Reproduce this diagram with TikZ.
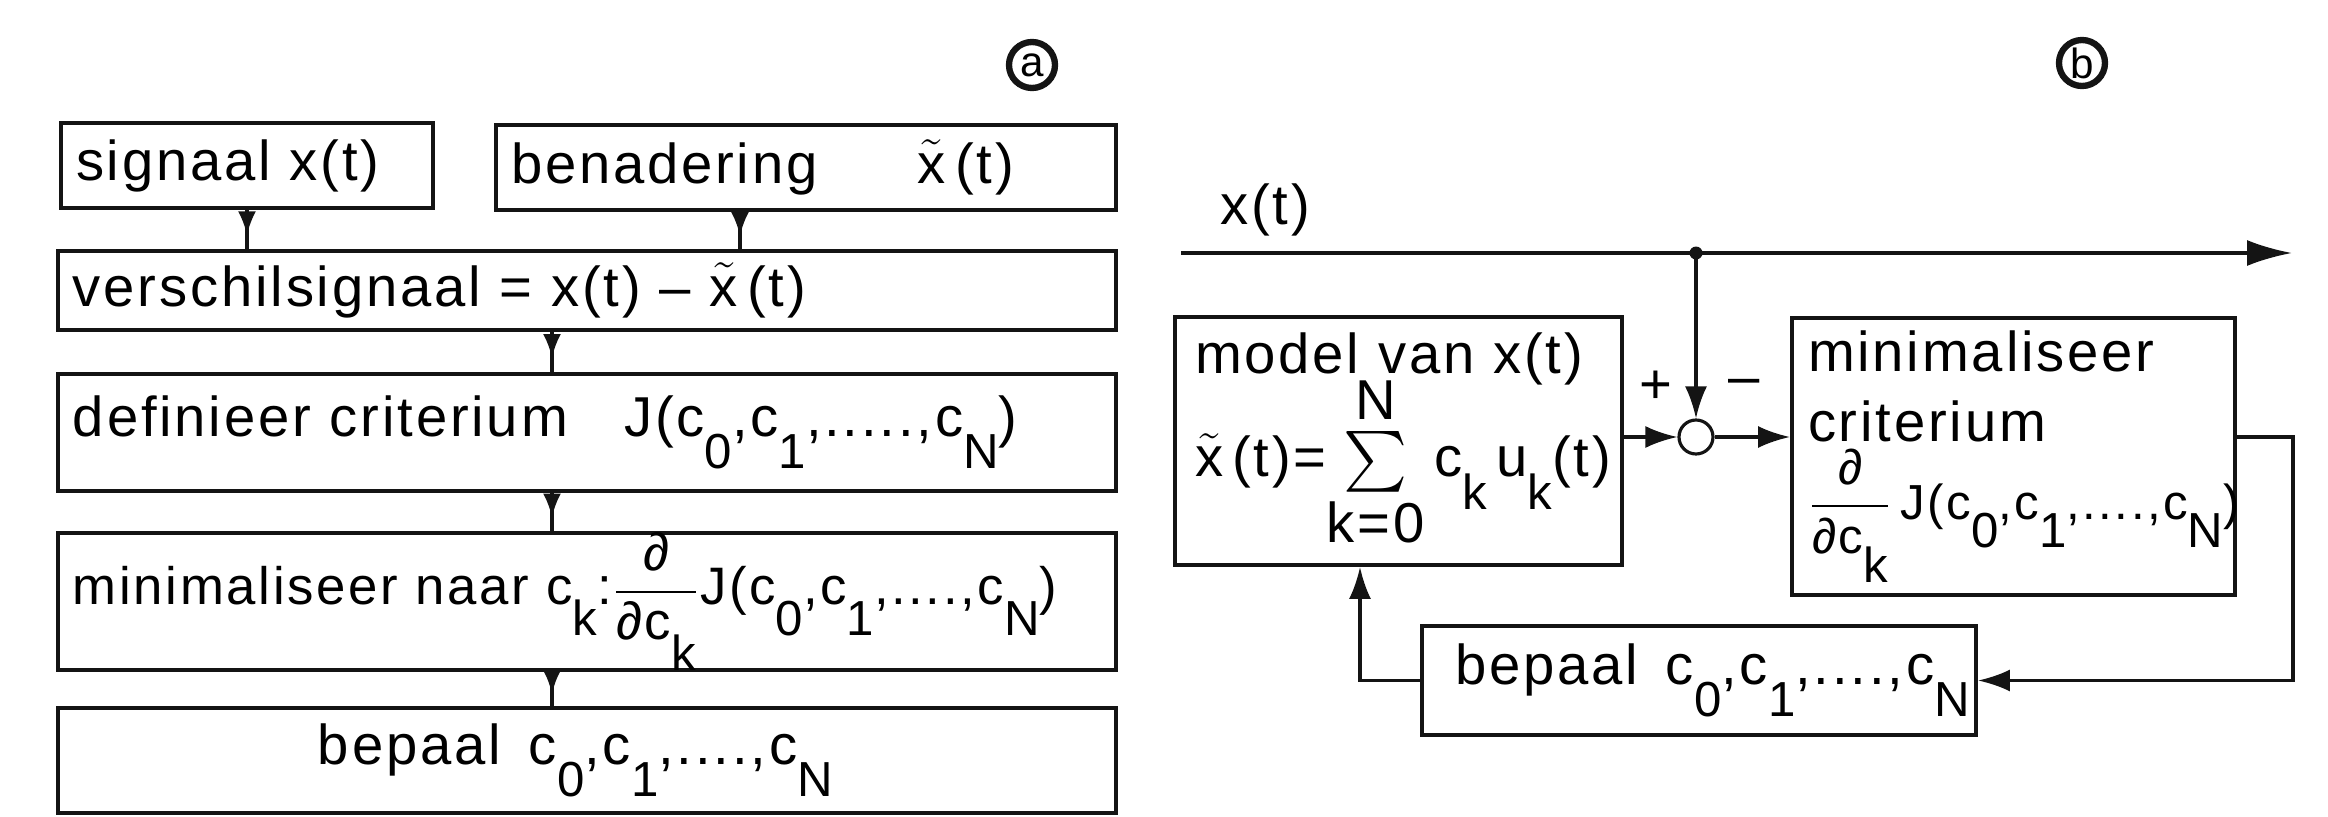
\documentclass[tikz,border=0pt]{standalone}
\usepackage{fontspec}
\setmainfont{Liberation Sans}[LetterSpace=5]
\usepackage{amsmath}
\usepackage{xcolor}
\usepackage{tikz}
\usetikzlibrary{arrows.meta,calc,decorations.markings}
\definecolor{ink}{HTML}{141414}
% lowered index, drawn nearly full size
\newcommand{\lo}[1]{\raisebox{-1.1ex}{\fontsize{14}{14}\selectfont #1}}
\newcommand{\xt}{$\tilde{\mbox{x}}$}
\tikzset{
  >={Latex[length=3.2mm,width=2.2mm]},
  box/.style={
    draw=ink,
    line width=1.1pt,
    align=left,
    inner xsep=1.5mm,
    inner ysep=0pt,
    font=\fontsize{16}{20}\selectfont
  },
  link/.style={
    draw=ink, line width=1pt,
    postaction={decorate},
    decoration={markings, mark=at position 0.65 with {\arrow{Latex[length=2.4mm,width=1.8mm]}}}
  },
  sig/.style={draw=ink, ->, line width=0.9pt},
  lbl/.style={font=\fontsize{16}{20}\selectfont, inner sep=1pt},
  tag/.style={circle, draw=ink, line width=1.8pt, inner sep=0pt, minimum size=4.6mm, font=\fontsize{12}{12}\selectfont}
}

\begin{document}
\begin{tikzpicture}[x=1cm,y=1cm]
  \path[use as bounding box] (0,0) rectangle (23.28,-8.17);

  % part a: steps of the approximation
  \node[tag] (taga) at (10.32,-0.65) {a};

  \node[box, text width=3.42cm, minimum height=0.85cm] (sig) at (2.47,-1.655)
    {signaal x(t)};
  \node[box, text width=5.90cm, minimum height=0.85cm] (approx) at (8.06,-1.675)
    {benadering\hspace{1.0cm}\xt\,(t)};
  \node[box, text width=10.28cm, minimum height=0.79cm] (diff) at (5.87,-2.905)
    {verschilsignaal = x(t) -- \xt\,(t)};
  \node[box, text width=10.28cm, minimum height=1.17cm] (crit) at (5.87,-4.325)
    {definieer criterium\quad J(c\lo{0},c\lo{1},.....,c\lo{N})};
  \node[box, text width=10.28cm, minimum height=1.37cm, font=\fontsize{15}{19}\selectfont] (mincrit) at (5.87,-6.015)
    {\mbox{minimaliseer naar c\lo{k}:$\dfrac{\mbox{∂}}{\mbox{∂c\lo{k}}}$J(c\lo{0},c\lo{1},....,c\lo{N})}};
  \node[box, text width=10.28cm, minimum height=1.05cm] (coef) at (5.87,-7.605)
    {\hspace*{2.45cm}bepaal\enspace c\lo{0},c\lo{1},....,c\lo{N}};

  \coordinate (approxout) at ([xshift=-6.6mm]approx.south);
  \coordinate (spine) at (5.52,0);
  \draw[link] (sig.south) -- (sig.south |- diff.north);
  \draw[link] (approxout) -- (approxout |- diff.north);
  \draw[link] (diff.south -| spine) -- (crit.north -| spine);
  \draw[link] (crit.south -| spine) -- (mincrit.north -| spine);
  \draw[link] (mincrit.south -| spine) -- (coef.north -| spine);

  % part b: the loop
  \node[tag] (tagb) at (20.82,-0.63) {b};

  \node[lbl] (xin) at (12.65,-2.10) {x(t)};
  \coordinate (xstart) at (11.81,-2.53);
  \coordinate (xend) at (22.92,-2.53);
  \coordinate (junc) at (16.96,-2.53);
  \draw[sig, >={Latex[length=4.5mm,width=2.6mm]}] (xstart) -- (xend);
  \fill[ink] (junc) circle (0.65mm);

  \node[box, inner xsep=2mm, text width=4.07cm, minimum height=2.48cm] (model) at (13.985,-4.41)
    {model van x(t)\\[-4pt]
     \mbox{\xt\,(t)=$\sum\limits^{\mbox{N}}_{\mbox{k=0}}$\,c\lo{k}\,u\lo{k}(t)}};
  \node[circle, draw=ink, line width=0.9pt, minimum size=3.4mm, inner sep=0pt] (sum) at (16.96,-4.37) {};
  \node[box, inner xsep=1.6mm, text width=4.11cm, minimum height=2.77cm] (opt) at (20.135,-4.565)
    {minimaliseer\\criterium\\[2pt]
     \mbox{\fontsize{14}{16}\selectfont$\dfrac{\mbox{∂}}{\mbox{∂c\lo{k}}}$\,J(c\lo{0},c\lo{1},....,c\lo{N})}};
  \node[box, inner xsep=3.3mm, text width=4.88cm, minimum height=1.09cm] (coefR) at (16.99,-6.805)
    {bepaal\enspace c\lo{0},c\lo{1},....,c\lo{N}};

  \node[lbl] (plus) at (16.56,-3.87) {+};
  \node[lbl] (minus) at (17.44,-3.87) {--};

  \coordinate (fbr) at (22.93,-4.37);
  \draw[sig] (junc) -- (sum.north);
  \draw[sig] (model.east |- sum) -- (sum.west);
  \draw[sig] (sum.east) -- (sum -| opt.west);
  \draw[sig] (sum -| opt.east) -- (fbr) |- (coefR.east);
  \draw[sig] (coefR.west) -| ([xshift=-3.85mm]model.south);
\end{tikzpicture}
\end{document}
